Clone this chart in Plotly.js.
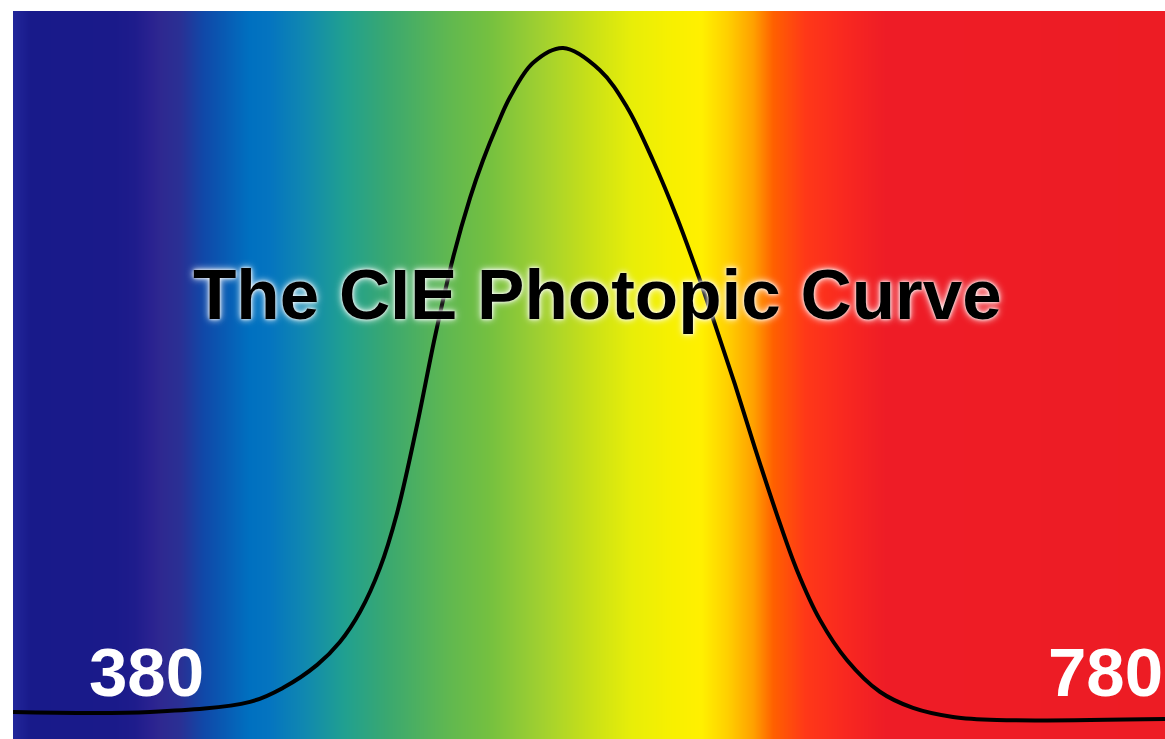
<!DOCTYPE html>
<html>
<head>
<meta charset="utf-8">
<script src="https://cdn.plot.ly/plotly-3.0.1.min.js"></script>
<style>
  html, body { margin: 0; padding: 0; background: #ffffff; }
  #chart { width: 1165px; height: 739px; }
</style>
</head>
<body>
<div id="chart"></div>
<script>
// Visible spectrum backdrop: wavelength (nm) and the colour shown at it
const bandWavelengths = [370, 380, 386, 415, 422, 428, 431, 438, 446, 462, 469, 481, 495, 510, 531, 545, 563, 580, 595, 609, 619, 628, 637, 644, 655, 669, 683, 790];
const bandColors = ['#22269a', '#22269a', '#181a8a', '#1a1a8a', '#1e1c8c', '#2a2290', '#2e2890', '#2a3094', '#1048a8', '#0070c0', '#0474c0', '#1088b0', '#20a090', '#3aa870', '#60b850', '#74c040', '#a0d030', '#c8e018', '#e8ee08', '#f8f000', '#fff000', '#ffd000', '#ffa000', '#ff6000', '#ff3818', '#f82820', '#ee1c26', '#ed1c24'];

// Photopic luminous efficiency curve (relative sensitivity vs wavelength, nm)
const curveWavelengths = [380, 427.6, 462.3, 473.8, 485.6, 493.5, 500.5, 507.4, 513.3, 520.3, 526.5, 532.8, 538.7, 543.2, 548.1, 552.6, 560.6, 571.0, 583.8, 593.2, 602.2, 610.6, 617.5, 623.8, 630.7, 637.6, 645.3, 652.2, 660.2, 669.6, 681.0, 692.5, 706.4, 721.7, 780];
const curveSensitivity = [0.012, 0.012, 0.027, 0.048, 0.082, 0.116, 0.161, 0.226, 0.307, 0.439, 0.570, 0.688, 0.777, 0.833, 0.885, 0.927, 0.978, 1.000, 0.967, 0.912, 0.833, 0.747, 0.667, 0.588, 0.499, 0.405, 0.305, 0.223, 0.149, 0.089, 0.042, 0.018, 0.0045, 0.0, 0.0015];

// Range end labels
const rangeLabels = ['380', '780'];
const chartTitle = 'The CIE Photopic Curve';

const lo = bandWavelengths[0];
const hi = bandWavelengths[bandWavelengths.length - 1];
const spectrumScale = bandWavelengths.map((w, i) => [(w - lo) / (hi - lo), bandColors[i]]);

const backdrop = {
  type: 'heatmap',
  x: bandWavelengths,
  y: [-0.2, 1.2],
  z: [bandWavelengths, bandWavelengths],
  zmin: lo,
  zmax: hi,
  zsmooth: 'best',
  colorscale: spectrumScale,
  showscale: false,
  hoverinfo: 'skip'
};

const curve = {
  type: 'scatter',
  mode: 'lines',
  x: curveWavelengths,
  y: curveSensitivity,
  line: { color: '#000000', width: 4, shape: 'spline', smoothing: 1 },
  hoverinfo: 'skip'
};

const labelFont = { family: 'Liberation Sans, Arial, sans-serif', size: 69, color: '#ffffff', weight: 'bold' };

const layout = {
  width: 1165,
  height: 739,
  margin: { l: 13, r: 0, t: 11, b: 0, pad: 0 },
  paper_bgcolor: '#ffffff',
  plot_bgcolor: '#ffffff',
  showlegend: false,
  xaxis: { range: [380, 780], visible: false, fixedrange: true },
  yaxis: { range: [-0.0283, 1.0551], visible: false, fixedrange: true },
  annotations: [
    {
      xref: 'paper', yref: 'paper', x: 0.1159, y: 0.0913,
      xanchor: 'center', yanchor: 'middle', showarrow: false,
      text: rangeLabels[0], font: labelFont
    },
    {
      xref: 'paper', yref: 'paper', x: 1.0, y: 0.0913,
      xanchor: 'right', yanchor: 'middle', showarrow: false,
      text: rangeLabels[1], font: labelFont
    },
    {
      xref: 'paper', yref: 'paper', x: 0.507, y: 0.6099,
      xanchor: 'center', yanchor: 'middle', showarrow: false,
      text: chartTitle,
      font: {
        family: 'Liberation Sans, Arial, sans-serif', size: 71, color: '#000000', weight: 'bold',
        shadow: '0 0 3px rgba(255,255,255,0.95), 0 0 6px rgba(255,255,255,0.8), 0 0 10px rgba(255,255,255,0.5)'
      }
    }
  ]
};

Plotly.newPlot('chart', [backdrop, curve], layout, { displayModeBar: false, staticPlot: true });
</script>
</body>
</html>
